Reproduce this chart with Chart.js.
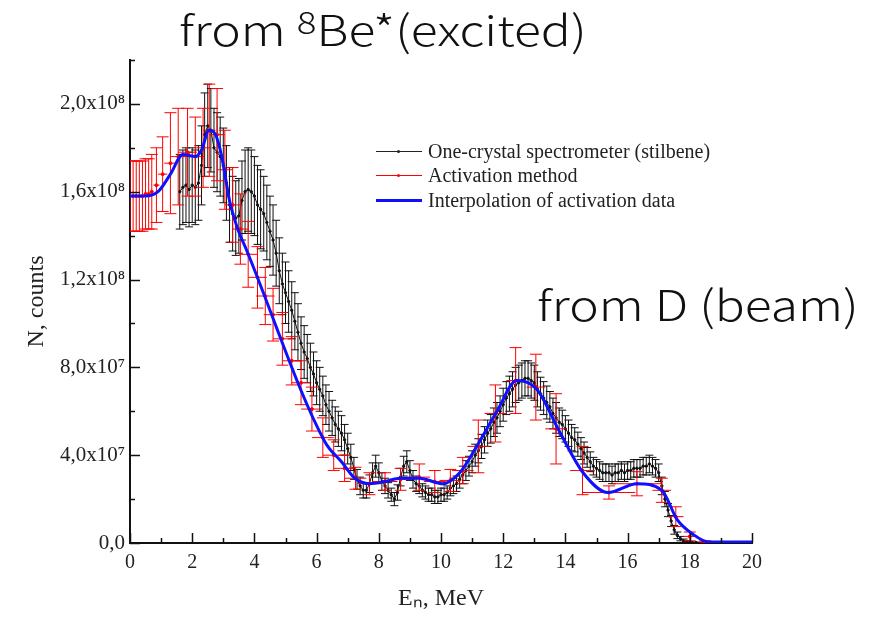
<!DOCTYPE html>
<html>
<head>
<meta charset="utf-8">
<script src="https://cdn.jsdelivr.net/npm/chart.js@4.4.1/dist/chart.umd.min.js"></script>
<style>
  body { margin: 0; background: #fff; }
  #wrap { position: relative; width: 887px; height: 623px; }
  .note { position: absolute; font-family: "Noto Sans CJK JP", "Noto Sans", sans-serif; font-weight: 300; font-size: 42px; color: #111; line-height: 1; white-space: nowrap; transform: scaleX(1.185); transform-origin: 0 0; }
  .note sup { font-size: 0.74em; position: relative; top: -0.4em; vertical-align: baseline; }
  .leg { position: absolute; left: 376px; font-family: "Liberation Serif", serif; font-size: 20px; color: #222; line-height: 1; white-space: nowrap; }
  .leg i { display: inline-block; width: 46px; vertical-align: middle; margin-right: 6px; position: relative; top: -2px; }
  .leg b { position: absolute; left: 21px; top: -2px; width: 3px; height: 3px; border-radius: 2px; }
</style>
</head>
<body>
<div id="wrap">
  <canvas id="chart" width="887" height="623"></canvas>
  <div class="note" style="left:179px; top:7px">from <sup>8</sup>Be*(excited)</div>
  <div class="note" style="left:537px; top:282px">from D (beam)</div>
  <div class="leg" style="top:141px"><i style="border-top:1px solid #222"><b style="background:#222"></b></i>One-crystal spectrometer (stilbene)</div>
  <div class="leg" style="top:165px"><i style="border-top:1px solid #f00"><b style="background:#f00"></b></i>Activation method</div>
  <div class="leg" style="top:190px"><i style="border-top:3px solid #1010ff"></i>Interpolation of activation data</div>
</div>
<script>
// values in units of 1e7 counts, energies in MeV

// one-crystal spectrometer (stilbene)
var blackE = [
  1.6, 1.7, 1.8, 1.9, 2.0, 2.1, 2.2, 2.3, 2.4, 2.5, 2.6, 2.7, 2.8, 2.9, 3.0, 3.1, 3.2, 3.3, 3.4, 3.5,
  3.6, 3.7, 3.8, 3.9, 4.0, 4.1, 4.2, 4.3, 4.4, 4.5, 4.6, 4.7, 4.8, 4.9, 5.0, 5.1, 5.2, 5.3, 5.4, 5.5,
  5.6, 5.7, 5.8, 5.9, 6.0, 6.1, 6.2, 6.3, 6.4, 6.5, 6.6, 6.7, 6.8, 6.9, 7.0, 7.1, 7.2, 7.3, 7.4, 7.5,
  7.6, 7.7, 7.8, 7.9, 8.0, 8.1, 8.2, 8.3, 8.4, 8.5, 8.6, 8.7, 8.8, 8.9, 9.0, 9.1, 9.2, 9.3, 9.4, 9.5,
  9.6, 9.7, 9.8, 9.9, 10.0, 10.1, 10.2, 10.3, 10.4, 10.5, 10.6, 10.7, 10.8, 10.9, 11.0, 11.1, 11.2, 11.3, 11.4, 11.5,
  11.6, 11.7, 11.8, 11.9, 12.0, 12.1, 12.2, 12.3, 12.4, 12.5, 12.6, 12.7, 12.8, 12.9, 13.0, 13.1, 13.2, 13.3, 13.4, 13.5,
  13.6, 13.7, 13.8, 13.9, 14.0, 14.1, 14.2, 14.3, 14.4, 14.5, 14.6, 14.7, 14.8, 14.9, 15.0, 15.1, 15.2, 15.3, 15.4, 15.5,
  15.6, 15.7, 15.8, 15.9, 16.0, 16.1, 16.2, 16.3, 16.4, 16.5, 16.6, 16.7, 16.8, 16.9, 17.0, 17.1, 17.2, 17.3, 17.4, 17.5,
  17.6, 17.7, 17.8, 17.9, 18.0, 18.2, 18.4, 18.6, 18.8, 19.0, 19.2
];
var blackN = [
  16.0, 16.2, 16.3, 16.1, 16.3, 16.2, 16.4, 17.2, 18.6, 19.0, 18.8, 18.0, 17.8, 17.6, 17.2, 16.4, 15.4, 15.0, 14.8, 14.9,
  15.6, 16.0, 16.1, 16.0, 15.8, 15.4, 15.2, 15.0, 14.6, 14.2, 13.8, 13.2, 12.4, 11.8, 11.4, 11.0, 10.6, 10.1, 9.6, 9.1,
  8.7, 8.4, 8.0, 7.7, 7.3, 7.0, 6.7, 6.3, 6.0, 5.7, 5.4, 5.2, 5.0, 4.7, 4.3, 3.9, 3.4, 2.9, 2.6, 2.4,
  2.4, 2.7, 3.2, 3.5, 3.2, 2.8, 2.6, 2.4, 2.2, 2.0, 2.3, 3.0, 3.5, 3.7, 3.3, 2.9, 2.7, 2.6, 2.4, 2.3,
  2.2, 2.2, 2.1, 2.1, 2.2, 2.2, 2.3, 2.5, 2.6, 2.7, 2.9, 3.1, 3.3, 3.5, 3.7, 4.0, 4.2, 4.4, 4.7, 5.0,
  5.2, 5.5, 5.7, 6.0, 6.3, 6.6, 6.8, 7.0, 7.2, 7.3, 7.4, 7.5, 7.5, 7.4, 7.3, 7.0, 6.8, 6.6, 6.4, 6.2,
  5.9, 5.7, 5.5, 5.4, 5.2, 5.0, 4.8, 4.7, 4.5, 4.3, 4.1, 3.9, 3.7, 3.5, 3.4, 3.3, 3.2, 3.2, 3.2, 3.1,
  3.2, 3.2, 3.3, 3.2, 3.3, 3.3, 3.4, 3.4, 3.4, 3.5, 3.5, 3.6, 3.5, 3.4, 3.2, 2.6, 2.0, 1.5, 1.0, 0.6,
  0.35, 0.2, 0.1, 0.05, 0.03, 0.02, 0.01, 0, 0, 0, 0
];
var blackErr = [
  1.7, 1.7, 1.7, 1.7, 1.7, 1.7, 1.7, 1.8, 1.9, 1.9, 1.9, 1.8, 1.8, 1.8, 1.7, 1.7, 1.7, 1.7, 1.7, 1.7,
  1.8, 1.9, 1.9, 1.9, 1.8, 1.8, 1.8, 1.7, 1.7, 1.6, 1.6, 1.5, 1.5, 1.4, 1.4, 1.4, 1.3, 1.3, 1.3, 1.2,
  1.2, 1.1, 1.1, 1.0, 1.0, 1.0, 0.9, 0.9, 0.9, 0.8, 0.8, 0.8, 0.8, 0.7, 0.7, 0.6, 0.5, 0.45, 0.4, 0.35,
  0.35, 0.4, 0.45, 0.5, 0.45, 0.4, 0.35, 0.35, 0.3, 0.3, 0.35, 0.4, 0.45, 0.5, 0.45, 0.4, 0.35, 0.35, 0.3, 0.3,
  0.3, 0.3, 0.3, 0.3, 0.3, 0.3, 0.3, 0.35, 0.35, 0.35, 0.4, 0.4, 0.45, 0.45, 0.5, 0.5, 0.55, 0.55, 0.6, 0.6,
  0.65, 0.65, 0.7, 0.7, 0.75, 0.75, 0.8, 0.8, 0.8, 0.8, 0.8, 0.8, 0.8, 0.8, 0.8, 0.8, 0.75, 0.75, 0.75, 0.7,
  0.7, 0.7, 0.65, 0.65, 0.6, 0.6, 0.6, 0.55, 0.55, 0.5, 0.5, 0.45, 0.45, 0.4, 0.4, 0.4, 0.4, 0.4, 0.4, 0.4,
  0.4, 0.4, 0.4, 0.4, 0.4, 0.4, 0.4, 0.4, 0.4, 0.4, 0.4, 0.4, 0.4, 0.4, 0.4, 0.4, 0.35, 0.3, 0.25, 0.2,
  0.15, 0.1, 0.08, 0.05, 0.03, 0.02, 0.01, 0, 0, 0, 0
];

// activation method
var redE = [
  0.0, 0.1, 0.2, 0.3, 0.4, 0.5, 0.6, 0.7,
  0.85, 1.05, 1.3, 1.55, 1.85, 2.1, 2.35, 2.55, 2.8, 3.05,
  3.3, 3.55, 3.8, 4.1, 4.35, 4.6, 4.9, 5.2, 5.5, 5.85,
  6.2, 6.55, 6.9, 7.25, 7.7, 8.2, 8.7, 9.3, 9.8, 10.3,
  10.7, 11.2, 11.75, 12.4, 13.05, 13.7, 14.55, 15.4, 16.3, 17.1,
  17.55, 18.0, 18.5
];
var redN = [
  15.8, 15.8, 15.8, 15.8, 15.8, 15.9, 15.9, 16.0,
  16.3, 16.8, 17.3, 17.6, 17.8, 17.6, 18.0, 18.8, 18.6, 17.0,
  15.4, 14.3, 13.15, 12.1, 11.25, 10.4, 9.3, 8.3, 7.3, 6.1,
  4.8, 4.0, 3.4, 2.95, 2.7, 2.8, 2.9, 3.0, 2.8, 2.85,
  3.3, 4.4, 5.9, 7.4, 7.1, 5.2, 3.3, 2.3, 2.7, 2.4,
  1.2, 0.3, 0.05
];
var redErrN = [
  1.6, 1.6, 1.6, 1.6, 1.6, 1.6, 1.6, 1.7,
  1.7, 1.7, 2.3, 2.2, 2.0, 1.8, 1.8, 2.1, 2.1, 1.8,
  1.7, 1.6, 1.5, 1.4, 1.3, 1.2, 1.2, 1.1, 1.0, 1.0,
  0.9, 0.7, 0.6, 0.5, 0.5, 0.4, 0.5, 0.6, 0.5, 0.5,
  0.6, 1.2, 1.3, 1.5, 1.5, 1.6, 1.1, 0.3, 0.55, 0.55,
  0.45, 0.2, 0.05
];
var redErrE = [
  0.05, 0.05, 0.05, 0.05, 0.05, 0.05, 0.05, 0.05,
  0.1, 0.15, 0.2, 0.25, 0.3, 0.3, 0.25, 0.2, 0.25, 0.25,
  0.25, 0.25, 0.3, 0.3, 0.3, 0.3, 0.3, 0.3, 0.3, 0.35,
  0.35, 0.35, 0.35, 0.35, 0.4, 0.4, 0.35, 0.35, 0.35, 0.35,
  0.35, 0.35, 0.35, 0.3, 0.3, 0.35, 0.4, 0.85, 0.8, 0.3,
  0.25, 0.2, 0.2
];

// interpolation of activation data
var blueE = [0, 0.5, 0.9, 1.3, 1.7, 2.1, 2.3, 2.54, 2.75, 2.95, 3.2, 3.44, 3.76, 6.27, 6.8, 7.23, 7.7, 8.2, 8.68, 9.3,
  10.06, 10.6, 11.15, 11.8, 12.44, 13.08, 13.8, 14.57, 15.37, 16.3, 17.1, 17.6, 18.1, 18.6, 20];
var blueN = [15.8, 15.8, 16.0, 16.8, 17.7, 17.6, 17.9, 18.8, 18.6, 17.6, 15.6, 14.4, 13.3, 4.6, 3.7, 2.95, 2.7, 2.8, 2.95, 2.95,
  2.7, 3.2, 4.4, 6.0, 7.4, 7.0, 5.1, 3.2, 2.3, 2.7, 2.4, 1.05, 0.4, 0.05, 0.05];

var yTickVals = [0, 4, 8, 12, 16, 20];
var yTickLabels = ['0,0', '4,0x10\u2077', '8,0x10\u2077', '1,2x10\u2078', '1,6x10\u2078', '2,0x10\u2078'];

function pts(xs, ys) {
  return xs.map(function (v, i) { return { x: v, y: ys[i] }; });
}

// draws y (and x) error bars before each dataset
var errorBars = {
  id: 'errorBars',
  beforeDatasetDraw: function (chart, args) {
    var ds = chart.data.datasets[args.index];
    if (!ds.errY) return;
    var ctx = chart.ctx, xs = chart.scales.x, ys = chart.scales.y, a = chart.chartArea;
    ctx.save();
    ctx.beginPath();
    ctx.rect(a.left, a.top - 2, a.right - a.left, a.bottom - a.top + 2);
    ctx.clip();
    ctx.strokeStyle = ds.borderColor;
    ctx.lineWidth = 1;
    ds.data.forEach(function (p, i) {
      var px = xs.getPixelForValue(p.x);
      var py = ys.getPixelForValue(p.y);
      var e = ds.errY[i];
      ctx.beginPath();
      if (e > 0) {
        var t = ys.getPixelForValue(p.y + e), b = ys.getPixelForValue(p.y - e);
        ctx.moveTo(px, t); ctx.lineTo(px, b);
        ctx.moveTo(px - ds.capW, t); ctx.lineTo(px + ds.capW, t);
        ctx.moveTo(px - ds.capW, b); ctx.lineTo(px + ds.capW, b);
      }
      if (ds.errX && ds.errX[i] > 0) {
        ctx.moveTo(xs.getPixelForValue(p.x - ds.errX[i]), py);
        ctx.lineTo(xs.getPixelForValue(p.x + ds.errX[i]), py);
      }
      ctx.stroke();
    });
    ctx.restore();
  }
};

// inward tick marks like the original plot
var innerTicks = {
  id: 'innerTicks',
  afterDraw: function (chart) {
    var ctx = chart.ctx, xs = chart.scales.x, ys = chart.scales.y, a = chart.chartArea;
    ctx.save();
    ctx.strokeStyle = '#111';
    ctx.lineWidth = 1.5;
    ctx.beginPath();
    for (var v = 0; v <= 20; v++) {
      var px = Math.round(xs.getPixelForValue(v)) + 0.5;
      ctx.moveTo(px, a.bottom);
      ctx.lineTo(px, a.bottom - (v % 2 === 0 ? 10 : 5));
    }
    for (var w = 0; w <= 22; w += 2) {
      var py = Math.round(ys.getPixelForValue(w)) + 0.5;
      ctx.moveTo(a.left, py);
      ctx.lineTo(a.left + (w % 4 === 0 ? 10 : 5), py);
    }
    ctx.stroke();
    ctx.restore();
  }
};

var chart = new Chart(document.getElementById('chart'), {
  type: 'scatter',
  data: {
    datasets: [
      {
        label: 'Interpolation of activation data',
        type: 'line',
        data: pts(blueE, blueN),
        borderColor: '#1010ff',
        borderWidth: 3,
        pointRadius: 0,
        cubicInterpolationMode: 'monotone',
        fill: false,
        order: 0
      },
      {
        label: 'Activation method',
        data: pts(redE, redN),
        errY: redErrN,
        errX: redErrE,
        capW: 6,
        borderColor: '#ff0000',
        backgroundColor: '#ff0000',
        pointRadius: 1.5,
        showLine: false,
        order: 1
      },
      {
        label: 'One-crystal spectrometer (stilbene)',
        data: pts(blackE, blackN),
        errY: blackErr,
        capW: 4,
        borderColor: '#111',
        backgroundColor: '#111',
        borderWidth: 1,
        pointRadius: 1.2,
        showLine: true,
        order: 2
      }
    ]
  },
  options: {
    responsive: false,
    animation: false,
    devicePixelRatio: 1,
    layout: { padding: { top: 60, right: 135, left: 0, bottom: 0 } },
    plugins: {
      legend: { display: false },
      tooltip: { enabled: false }
    },
    scales: {
      x: {
        type: 'linear',
        min: 0,
        max: 20,
        grid: { display: false, drawTicks: false },
        border: { display: true, color: '#111', width: 2 },
        ticks: {
          stepSize: 2,
          padding: 8,
          maxRotation: 0,
          color: '#222',
          font: { family: 'Liberation Serif', size: 20 }
        },
        title: {
          display: true,
          text: 'E\u2099, MeV',
          color: '#222',
          font: { family: 'Liberation Serif', size: 24 },
          padding: { top: 0, bottom: 10 }
        },
        afterFit: function (s) { s.height = 80; }
      },
      y: {
        type: 'linear',
        min: 0,
        max: 22,
        grid: { display: false, drawTicks: false },
        border: { display: true, color: '#111', width: 2 },
        afterBuildTicks: function (s) {
          s.ticks = yTickVals.map(function (v) { return { value: v }; });
        },
        ticks: {
          padding: 5,
          color: '#222',
          font: { family: 'Liberation Serif', size: 21 },
          callback: function (v) {
            var i = yTickVals.indexOf(v);
            return i < 0 ? '' : yTickLabels[i];
          }
        },
        title: {
          display: true,
          text: 'N, counts',
          color: '#222',
          font: { family: 'Liberation Serif', size: 24 },
          padding: { top: 22, bottom: 0 }
        },
        afterFit: function (s) { s.width = 130; }
      }
    }
  },
  plugins: [errorBars, innerTicks]
});
</script>
</body>
</html>
